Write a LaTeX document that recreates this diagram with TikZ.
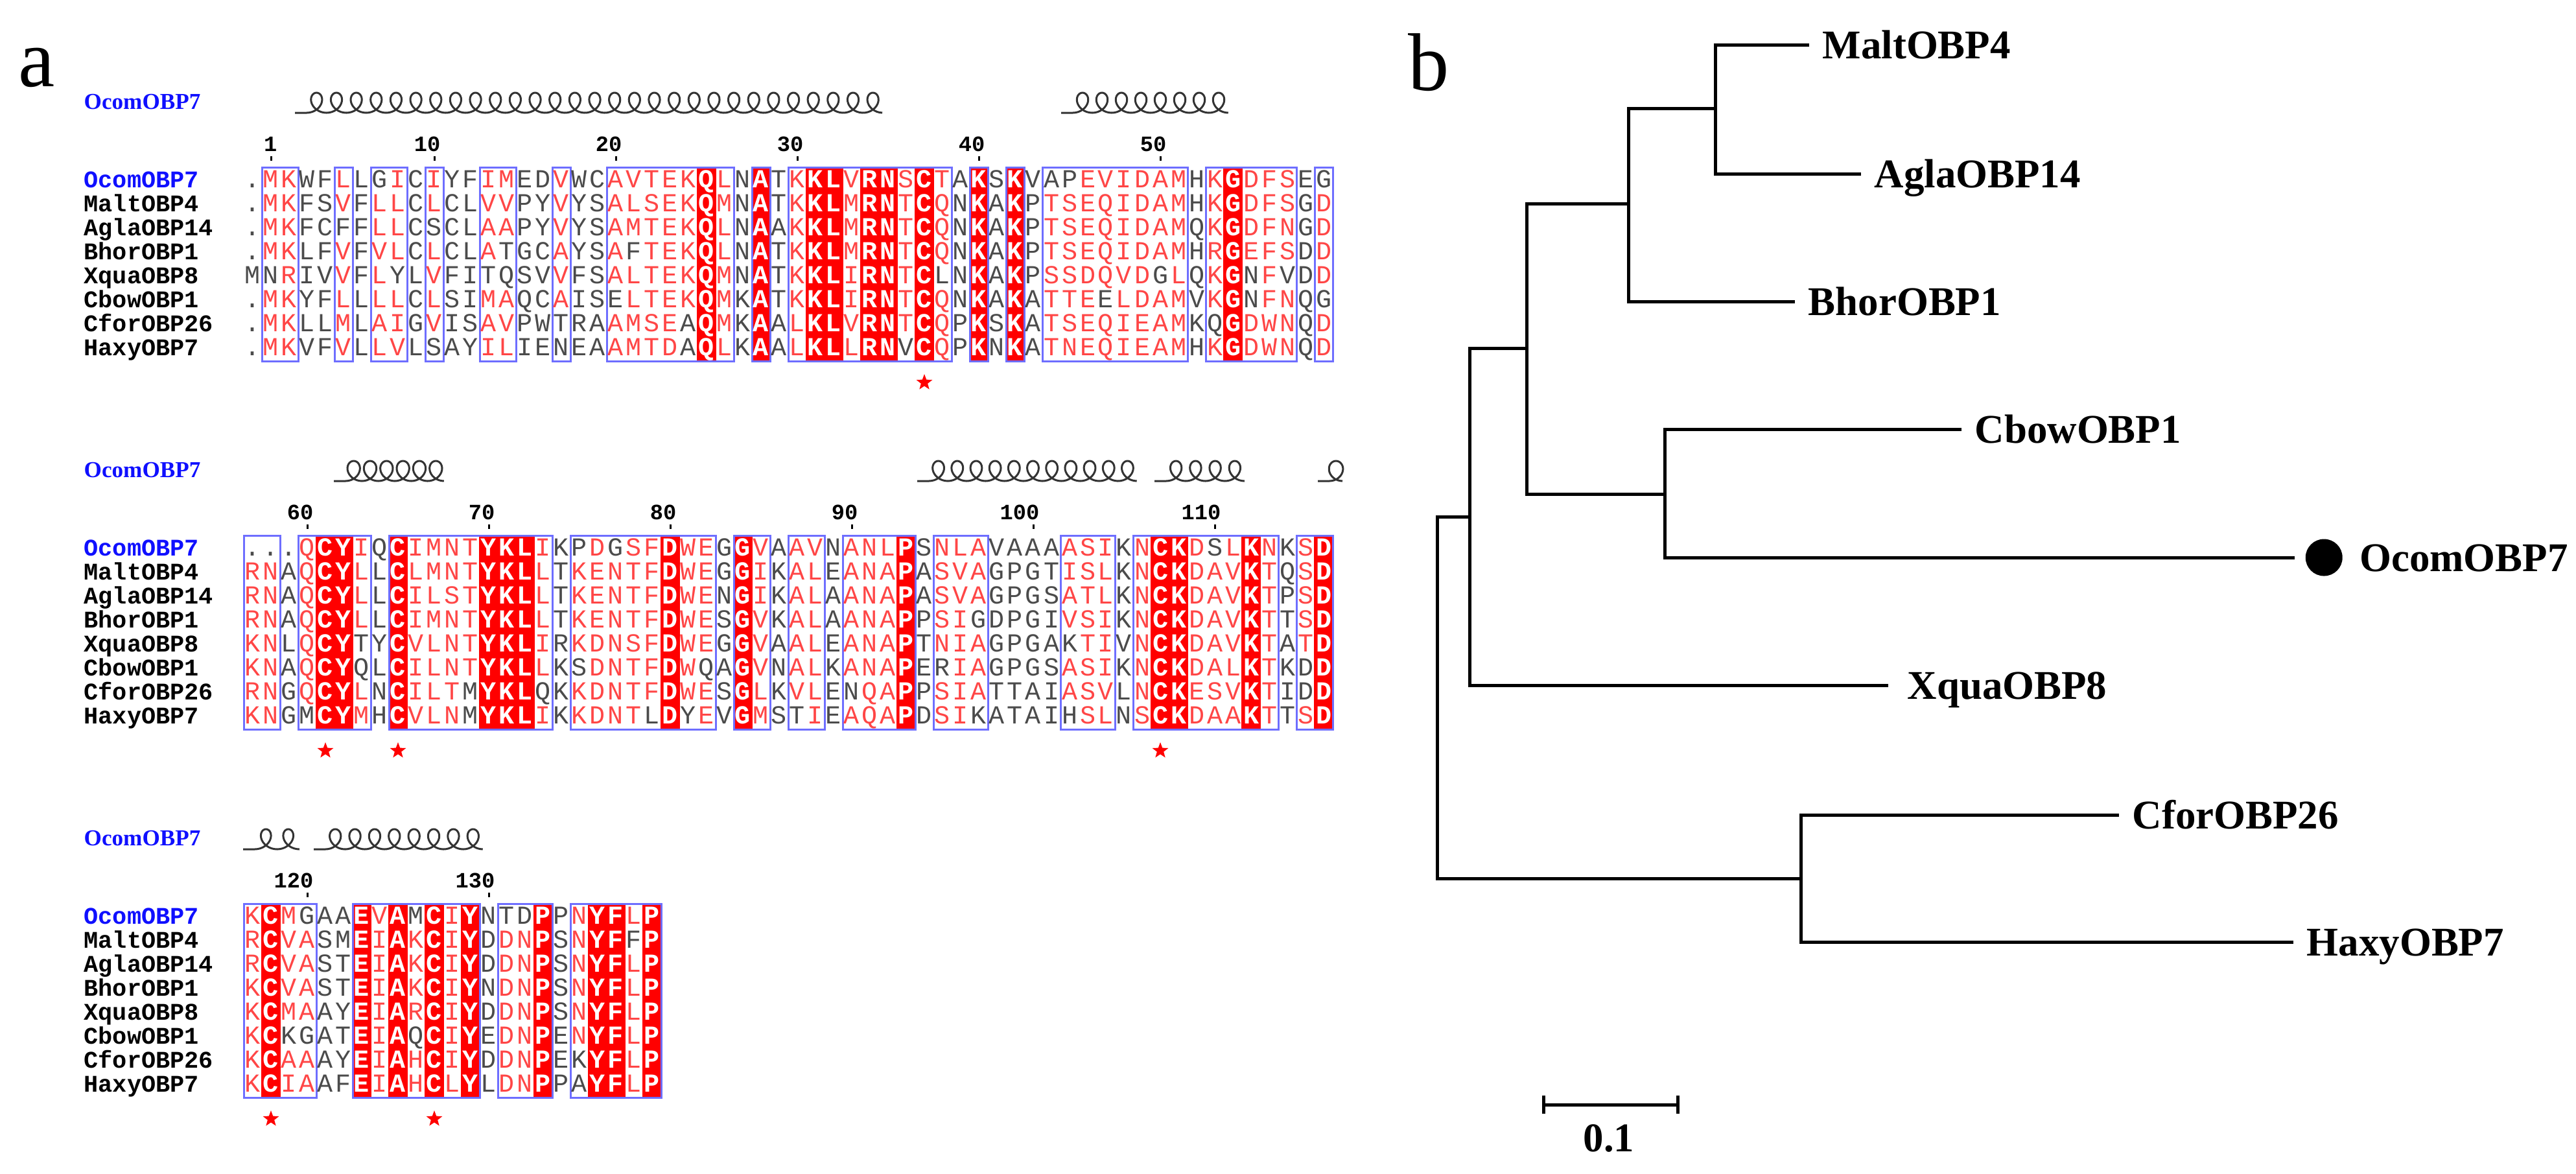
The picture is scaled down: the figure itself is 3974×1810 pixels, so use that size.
\documentclass[tikz,border=0pt]{standalone}
\usepackage{fontspec}
\usepackage{xstring}
\usetikzlibrary{positioning,shapes.geometric}
\setmainfont{Liberation Serif}
\newfontfamily\seqfont{Liberation Mono}

\definecolor{espred}{RGB}{255,0,0}
\definecolor{resred}{RGB}{255,70,70}
\definecolor{resgray}{RGB}{75,75,75}
\definecolor{espblue}{RGB}{110,110,255}
\definecolor{refblue}{RGB}{15,15,255}

\newcommand\fsz[1]{\fontsize{#1}{#1}\selectfont}

\tikzset{
  res/.style={anchor=base, inner sep=0pt, font=\seqfont\fsz{11.4pt}},
  seqname/.style={anchor=base west, inner sep=0pt, font=\seqfont\bfseries\fsz{10.5pt}},
  boxline/.style={draw=espblue, line width=0.3mm, line cap=rect},
  helixline/.style={draw=black!80, line width=0.3mm},
  colnum/.style={anchor=base east, inner sep=0pt, font=\seqfont\bfseries\fsz{9.6pt}},
  cysstar/.style={star, star points=5, star point ratio=2.4, fill=red, inner sep=0pt, minimum size=2.6mm},
  branch/.style={line width=0.5mm},
  leaf/.style={inner sep=0pt, text height=4.2mm, text depth=0pt, font=\bfseries\fsz{17.9pt}},
}

% one macro per block and row
\newcommand\defseq[3]{\expandafter\def\csname seq#1#2\endcsname{#3}}
% lower case = black letter inside a frame
\defseq{1}{1}{.MKWFLLgICIYFIMEDVWCAVTEKQLNATKKLVRNSCTAKSKVapEVIDAMHKGDFSEg}
\defseq{1}{2}{.MKFSVFLLCLCLVVPYVYSALSEKQMNATKKLMRNTCQNKAKPTSEQIDAMHKGDFSGD}
\defseq{1}{3}{.MKFCfFLLCsCLAAPYVYSAMTEKQLNAAKKLMRNTCQNKAKPTSEQIDAMQKGDFNGD}
\defseq{1}{4}{.MKLFVFVLCLCLAtGCAYSAfTEKQLNATKKLMRNTCQNKAKPTSEQIDAMHRGEFSDD}
\defseq{1}{5}{MnRIVVFLyLVFItqSVVFSALTEKQMNATKKLIRNTClNKAKPSSDQVDgLQKGnFvDD}
\defseq{1}{6}{.MKYFLLLLCLSIMAQCAISeLTEKQMKATKKLIRNTCQNKAKATTEeLDAMVKGnFNQg}
\defseq{1}{7}{.MKLLMLAIGVISAVPWtRAAMSEaQMKAALKLVRNTCQPKSKATSEQIEAMKqGDWNQD}
\defseq{1}{8}{.MKVFVLLVLsAYILIEnEAAMTDaQLKAALKLLRNvCQPKNKATNEQIEAMHKGDWNQD}
\defseq{2}{1}{...QCYIQCIMNTYKLIKpDgSFDWEGGVAAVNANLPSNLAVAAAASIKNCKDsLKNKSD}
\defseq{2}{2}{RNAQCYLLCLMNTYKLLTKENTFDWEGGIKALEANAPASVAGPGTISLKNCKDAVKTQSD}
\defseq{2}{3}{RNAQCYLLCILSTYKLLTKENTFDWENGIKALAANAPASVAGPGSATLKNCKDAVKTPSD}
\defseq{2}{4}{RNAQCYLLCIMNTYKLLTKENTFDWESGVKALAANAPPSIgDPGIVSIKNCKDAVKTTSD}
\defseq{2}{5}{KNLQCYtYCVLNTYKLIRKDNSFDWEGGVAALEANAPTNIAGPGAkTIVNCKDAVKTATD}
\defseq{2}{6}{KNAQCYqLCILNTYKLLKsDNTFDWqAGVNALKANAPErIAGPGSASIKNCKDALKTKdD}
\defseq{2}{7}{RNGQCYLNCILTmYKLqKKDNTFDWESGLKVLEnQAPPSIATTAIASVLNCKESVKTIdD}
\defseq{2}{8}{KNGmCYMHCVLNmYKLIKKDNTlDyEVGMStIEAQAPDSIkATAIhSLNSCKDAAKTTSD}
\defseq{3}{1}{KCMgAAEVAmCIYNtdPPNYFLP}
\defseq{3}{2}{RCVASMEIAKCIYDDNPSNYFfP}
\defseq{3}{3}{RCVASTEIAKCIYDDNPSNYFLP}
\defseq{3}{4}{KCVASTEIAKCIYNDNPSNYFLP}
\defseq{3}{5}{KCMAAYEIARCIYDDNPSNYFLP}
\defseq{3}{6}{KCkgATEIAqCIYEDNPENYFLP}
\defseq{3}{7}{KCAAAYEIAHCIYDDNPEkYFLP}
\defseq{3}{8}{KCIAAFEIAHCLYLDNPPaYFLP}

% column classes: n = none, b = framed, f = filled
\newcommand\clsA{nbbnnbnbbnbnnbbnnbnnbbbbbfbnfnbffbffbfbnfnfnbbbbbbbbnbfbbbnb}
\newcommand\clsB{bbnbffbnfbbbbfffbnbbbbbfbbnfbnbbnbbbfnbbbnnnnbbbnbffbbbfbnbf}
\newcommand\clsC{bfbbnnfbfbfbfnbbfnbffbf}

\newcommand\pickcolor{%
  \def\rc{resgray}\def\rb{}%
  \IfStrEq{\cls}{f}{\def\rc{white}\def\rb{\bfseries}}{}%
  \IfStrEq{\cls}{b}{\ifnum\expandafter`\res>64 \ifnum\expandafter`\res<91 \def\rc{resred}\fi\fi}{}%
}

\newcommand\alnblock[3]{% #1 block, #2 y of first row, #3 column classes
  \StrLen{#3}[\ncol]
  \foreach \ci in {1,...,\ncol}{
    \StrChar{#3}{\ci}[\cls]
    \IfStrEq{\cls}{f}{\fill[espred] ({390+28*(\ci-1)-14.6},#2-20) rectangle ({390+28*(\ci-1)+14.6},#2+279);}{}
  }
  \foreach \ci in {1,...,\ncol}{
    \StrChar{#3}{\ci}[\cls]
    \IfStrEq{\cls}{n}{}{%
      \pgfmathsetmacro\cx{390+28*(\ci-1)}
      \draw[boxline] (\cx-14,#2-20) -- (\cx+14,#2-20) (\cx-14,#2+279) -- (\cx+14,#2+279);
      \pgfmathtruncatemacro\cprev{\ci-1}
      \pgfmathtruncatemacro\cnext{\ci+1}
      \StrChar{#3}{\cprev}[\pcls]
      \StrChar{#3}{\cnext}[\ncls]
      \IfStrEqCase{\pcls}{{b}{}{f}{}}[{\draw[boxline] (\cx-14,#2-20) -- (\cx-14,#2+279);}]
      \IfStrEqCase{\ncls}{{b}{}{f}{}}[{\draw[boxline] (\cx+14,#2-20) -- (\cx+14,#2+279);}]
    }
  }
  \foreach \rw in {1,...,8}{
    \foreach \ci in {1,...,\ncol}{
      \StrChar{#3}{\ci}[\cls]
      \StrChar{\csname seq#1\rw\endcsname}{\ci}[\res]
      \pickcolor
      \node[res, text=\rc] at ({390+28*(\ci-1)},{#2+11+37*(\rw-1)}) {\rb\MakeUppercase{\res}};
    }
  }
  % names
  \node[anchor=base west, inner sep=0pt, text=refblue, font=\bfseries\fsz{10pt}] at (129,#2-110) {OcomOBP7};
  \node[seqname, text=refblue] at (129,#2+11) {OcomOBP7};
  \foreach \nm [count=\rw from 2] in {MaltOBP4,AglaOBP14,BhorOBP1,XquaOBP8,CbowOBP1,CforOBP26,HaxyOBP7}
    \node[seqname] at (129,{#2+11+37*(\rw-1)}) {\nm};
}

\newcommand\colnums[2]{% #1 y of first row, #2 index/label list
  \foreach \ci/\lab in {#2}{
    \node[colnum] at ({390+28*(\ci-1)+10},#1-45) {\lab};
    \fill ({390+28*(\ci-1)-1.5},#1-37) rectangle ++(3,7);
  }
}

\newcommand\helix[4]{% #1 x start, #2 x end, #3 loops, #4 y of first row
  \pgfmathsetmacro\hp{(#2-#1-18)/#3}
  \pgfmathtruncatemacro\hs{#3*30+1}
  \draw[helixline] (#1,#4-104) -- (#1+18,#4-104)
    -- plot[domain=-0.5:#3-0.5, samples=\hs] ({#1+18+\hp*(\x+0.5)-15.5*sin(360*\x)},{#4-135+15.5*(1-cos(360*\x))});
}

\begin{document}
\begin{tikzpicture}[x=0.1mm, y=-0.1mm]
\useasboundingbox (0,0) rectangle (3974,1810);

% panel a
\node[anchor=base west, inner sep=0pt, font=\fsz{36pt}] (pa) at (28,133) {a};

\alnblock{1}{278}{\clsA}
\colnums{278}{2/1,11/10,21/20,31/30,41/40,51/50}
\helix{455}{1362}{29}{278}
\helix{1637}{1895}{8}{278}
\node[cysstar] at ({390+28*37},590) {};

\alnblock{2}{846}{\clsB}
\colnums{846}{4/60,14/70,24/80,34/90,44/100,54/110}
\helix{515}{685}{6}{846}
\helix{1415}{1754}{11}{846}
\helix{1781}{1920}{4}{846}
\helix{2033}{2071}{1}{846}
\foreach \ci in {5,9,51}
  \node[cysstar] at ({390+28*(\ci-1)},1158) {};

\alnblock{3}{1414}{\clsC}
\colnums{1414}{4/120,14/130}
\helix{375}{462}{2}{1414}
\helix{484}{745}{8}{1414}
\foreach \ci in {2,11}
  \node[cysstar] at ({390+28*(\ci-1)},1726) {};

% panel b
\node[anchor=base west, inner sep=0pt, font=\fsz{36pt}] (pb) at (2172,139) {b};

\coordinate (root) at (2217,1076);
\coordinate (nA) at (2267,797);
\coordinate (nB) at (2355,537);
\coordinate (nC) at (2512,314);
\coordinate (nE) at (2646,167);
\coordinate (nD) at (2568,762);
\coordinate (nH) at (2778,1355);
\coordinate (tMalt) at (2791,69);
\coordinate (tAgla) at (2871,268);
\coordinate (tBhor) at (2769,465);
\coordinate (tCbow) at (3026,662);
\coordinate (tOcom) at (3540,860);
\coordinate (tXqua) at (2913,1057);
\coordinate (tCfor) at (3269,1257);
\coordinate (tHaxy) at (3538,1453);

\draw[branch] (root) |- (nA) (root) |- (nH)
  (nA) |- (nB) (nA) |- (tXqua)
  (nB) |- (nC) (nB) |- (nD)
  (nC) |- (nE) (nC) |- (tBhor)
  (nE) |- (tMalt) (nE) |- (tAgla)
  (nD) |- (tCbow) (nD) |- (tOcom)
  (nH) |- (tCfor) (nH) |- (tHaxy);

\node[leaf, right=2mm of tMalt] (malt) {MaltOBP4};
\node[leaf, right=2mm of tAgla] (agla) {AglaOBP14};
\node[leaf, right=2mm of tBhor] (bhor) {BhorOBP1};
\node[leaf, right=2mm of tCbow] (cbow) {CbowOBP1};
\node[circle, fill, inner sep=0pt, minimum size=5.7mm, right=1.6mm of tOcom] (ocomdot) {};
\node[leaf, right=2.5mm of ocomdot] (ocom) {OcomOBP7};
\node[leaf, right=2.9mm of tXqua] (xqua) {XquaOBP8};
\node[leaf, right=2mm of tCfor] (cfor) {CforOBP26};
\node[leaf, right=2mm of tHaxy] (haxy) {HaxyOBP7};

% scale bar
\coordinate (sbl) at (2381,1704);
\coordinate (sbr) at (2588,1704);
\draw[branch] (sbl) -- (sbr)
  ([yshift=1.4mm]sbl) -- ([yshift=-1.4mm]sbl)
  ([yshift=1.4mm]sbr) -- ([yshift=-1.4mm]sbr);
\node[anchor=base, inner sep=0pt, font=\bfseries\fsz{17.9pt}] (sbt) at (2482,1776) {0.1};
\end{tikzpicture}
\end{document}
